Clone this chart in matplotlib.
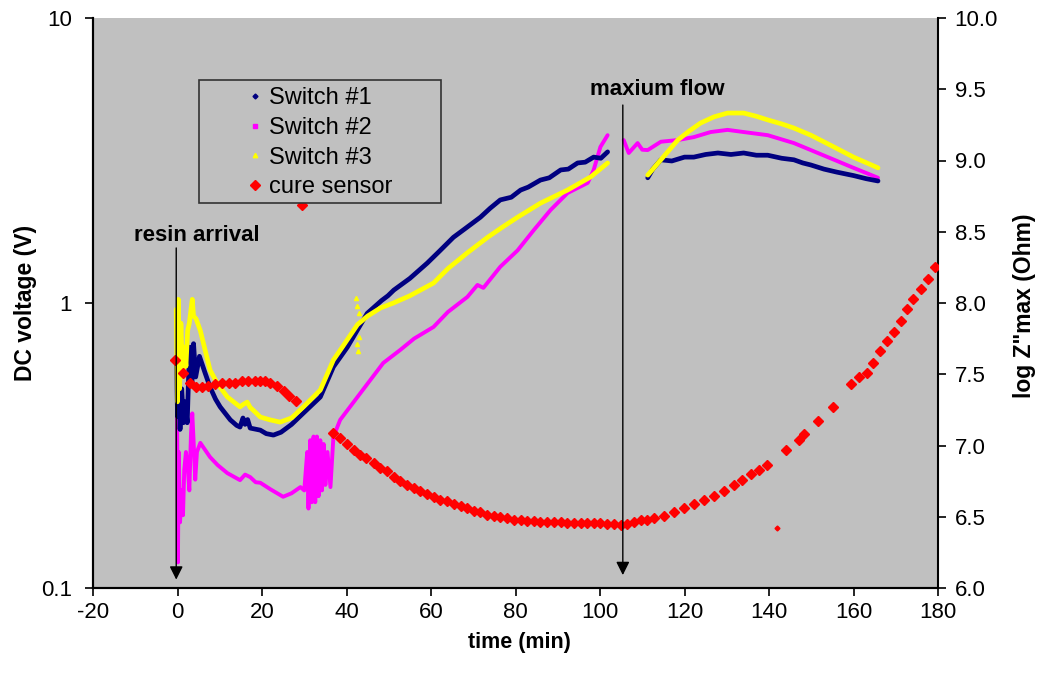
import matplotlib
matplotlib.use("Agg")
import matplotlib.pyplot as plt
from matplotlib.lines import Line2D
from matplotlib.patches import Rectangle
from matplotlib import font_manager as fm

# ---------------- data ----------------
sw1_t = [-0.2, 0.0, 0.3, 0.6, 1.0, 1.4, 1.8, 2.3, 2.7, 3.0, 3.4, 3.8, 4.3, 5.2, 6.5, 7.7, 9.0, 10.1,
         12.5, 14.0, 14.8, 15.5, 16.0, 16.6, 17.2, 19.6, 21.0, 22.7, 24.5, 27.0, 29.8, 33.8, 36.9,
         40.2, 44.9, 48.3, 49.8, 51.2, 55.0, 59.1, 62.0, 65.3, 68.0, 71.7, 74.0, 76.4, 79.0, 81.2,
         83.0, 85.9, 88.0, 90.7, 92.5, 94.7, 96.5, 98.5, 100.2, 101.8]
sw1_v = [0.62, 0.40, 0.55, 0.36, 0.50, 0.38, 0.45, 0.38, 0.60, 0.70, 0.52, 0.72, 0.55, 0.65, 0.57, 0.507,
         0.46, 0.432, 0.389, 0.372, 0.367, 0.395, 0.375, 0.39, 0.364, 0.358, 0.348, 0.344, 0.352, 0.375,
         0.411, 0.468, 0.597, 0.70, 0.92, 1.02, 1.06, 1.11, 1.22, 1.38, 1.52, 1.70, 1.82, 2.00, 2.15,
         2.30, 2.35, 2.49, 2.55, 2.70, 2.75, 2.93, 2.95, 3.10, 3.12, 3.25, 3.22, 3.39]
sw1b_t = [111.3, 112.5, 114.4, 117.0, 120.0, 122.2, 125.0, 127.9, 131.0, 134.0, 137.0, 139.7, 143.0,
          145.9, 148.0, 149.9, 153.0, 156.0, 160.0, 163.0, 165.8]
sw1b_v = [2.75, 2.95, 3.18, 3.15, 3.25, 3.25, 3.32, 3.36, 3.32, 3.36, 3.30, 3.30, 3.22, 3.18, 3.10,
          3.05, 2.95, 2.88, 2.80, 2.73, 2.68]

sw2_t = [-0.1, 0.1, 0.3, 0.6, 1.0, 1.3, 1.6, 2.0, 2.4, 2.8, 3.2, 3.5, 3.8, 4.2, 4.6, 5.4, 7.7, 9.5,
         11.8, 14.8, 16.0, 17.2, 18.5, 19.6, 22.0, 25.0, 27.0, 29.1, 30.0, 30.7, 31.0, 31.4, 31.8,
         32.2, 32.6, 33.0, 33.4, 33.8, 34.2, 34.6, 35.0, 35.5, 36.2, 36.9, 38.5, 40.2, 43.3, 48.7,
         52.7, 56.0, 60.6, 64.0, 68.6, 71.0, 72.4, 76.4, 80.5, 84.3, 88.3, 92.3, 97.1, 98.5, 100.1,
         101.8]
sw2_v = [0.42, 0.123, 0.30, 0.17, 0.22, 0.18, 0.26, 0.30, 0.27, 0.22, 0.35, 0.41, 0.33, 0.24, 0.30,
         0.323, 0.288, 0.27, 0.253, 0.239, 0.25, 0.245, 0.235, 0.234, 0.222, 0.209, 0.215, 0.226,
         0.22, 0.30, 0.19, 0.33, 0.20, 0.34, 0.20, 0.34, 0.21, 0.33, 0.22, 0.32, 0.23, 0.30, 0.226,
         0.339, 0.389, 0.42, 0.483, 0.616, 0.684, 0.75, 0.824, 0.93, 1.05, 1.157, 1.13, 1.34, 1.53,
         1.80, 2.12, 2.43, 2.64, 2.93, 3.53, 3.88]
sw2b_t = [105.6, 106.8, 108.9, 110.0, 111.3, 114.4, 118.4, 122.2, 126.2, 130.2, 134.0, 139.7, 145.9,
          149.9, 155.0, 160.0, 165.8]
sw2b_v = [3.73, 3.36, 3.64, 3.45, 3.44, 3.68, 3.73, 3.82, 3.98, 4.05, 3.98, 3.88, 3.64, 3.44, 3.20,
          2.98, 2.75]

sw3_t = [-0.3, 0.0, 0.2, 0.5, 0.8, 1.2, 1.6, 2.0, 2.4, 2.8, 3.2, 3.5, 3.8, 4.4, 5.4, 7.7, 9.5, 11.8,
         14.8, 15.5, 16.5, 17.2, 17.9, 19.6, 21.9, 24.3, 27.0, 29.8, 33.8, 36.9, 39.0, 42.6, 45.0,
         48.0, 51.1, 55.0, 60.6, 64.0, 68.6, 73.4, 77.0, 80.5, 85.9, 92.3, 97.8, 101.8]
sw3_v = [0.95, 0.45, 1.03, 0.50, 0.85, 0.55, 0.70, 0.60, 0.80, 0.85, 0.95, 1.03, 0.90, 0.88, 0.80,
         0.582, 0.52, 0.468, 0.432, 0.44, 0.449, 0.43, 0.421, 0.398, 0.389, 0.382, 0.395, 0.432,
         0.495, 0.631, 0.70, 0.84, 0.90, 0.96, 1.00, 1.06, 1.175, 1.32, 1.50, 1.70, 1.85,
         2.00, 2.24, 2.49, 2.77, 3.10]
sw3_flare_t = [42.3, 42.5, 42.6, 42.7, 42.9, 43.0]
sw3_flare_v = [1.04, 0.98, 0.72, 0.68, 0.92, 0.76]
sw3b_t = [111.3, 114.4, 118.4, 121.0, 123.8, 127.0, 130.2, 134.0, 137.0, 139.7, 143.0, 145.9, 149.9,
          155.0, 160.0, 165.8]
sw3b_v = [2.81, 3.18, 3.73, 4.00, 4.28, 4.50, 4.64, 4.64, 4.52, 4.39, 4.25, 4.11, 3.88, 3.55, 3.25,
          2.98]

cure_t = [-0.6, 1.3, 3.0, 4.4, 5.7, 7.3, 8.9, 10.5, 12.1, 13.6, 15.2, 16.8, 18.4, 19.6, 20.8, 21.9,
          23.5, 25.1, 26.5, 28.1, 29.5, 36.9, 38.5, 40.1, 41.7, 43.3, 44.5, 46.4, 48.0, 49.6, 51.2,
          52.7, 54.3, 55.9, 57.5, 59.1, 60.6, 62.2, 63.8, 65.4, 67.0, 68.6, 70.1, 71.7, 73.3, 74.9,
          76.4, 78.0, 79.6, 81.2, 82.8, 84.3, 85.9, 87.5, 89.1, 90.7, 92.3, 93.8, 95.4, 97.0, 98.6,
          100.1, 101.7, 103.3, 104.9, 106.5, 108.0, 109.6, 111.2, 112.8, 115.2, 117.5, 119.9, 122.3,
          124.6, 127.0, 129.4, 131.7, 133.7, 135.7, 137.7, 139.5, 144.0, 147.1, 148.3, 151.5, 155.2,
          159.5, 161.4, 163.2, 164.7, 166.3, 167.9, 169.5, 171.2, 172.7, 174.2, 176.0, 177.6, 179.3]
cure_z = [7.60, 7.51, 7.44, 7.41, 7.41, 7.42, 7.43, 7.44, 7.44, 7.44, 7.45, 7.455, 7.455, 7.455, 7.45,
          7.44, 7.42, 7.38, 7.35, 7.31, 8.69, 7.085, 7.05, 7.01, 6.97, 6.93, 6.91, 6.875, 6.84, 6.82,
          6.78, 6.75, 6.72, 6.70, 6.68, 6.66, 6.64, 6.62, 6.61, 6.59, 6.575, 6.56, 6.54, 6.53, 6.51,
          6.505, 6.50, 6.49, 6.48, 6.477, 6.47, 6.47, 6.465, 6.463, 6.46, 6.46, 6.456, 6.454, 6.454,
          6.454, 6.454, 6.454, 6.452, 6.45, 6.44, 6.45, 6.465, 6.477, 6.48, 6.49, 6.505, 6.535, 6.56,
          6.59, 6.62, 6.645, 6.68, 6.72, 6.76, 6.80, 6.83, 6.86, 6.97, 7.04, 7.08, 7.17, 7.27, 7.43,
          7.48, 7.51, 7.58, 7.66, 7.73, 7.80, 7.875, 7.955, 8.03, 8.10, 8.17, 8.25]
cure_out_t = [141.8]
cure_out_z = [6.42]

x_ticks = [-20, 0, 20, 40, 60, 80, 100, 120, 140, 160, 180]
y_ticks = [0.1, 1, 10]
y_ticklabels = ["0.1", "1", "10"]
z_ticks = [6.0, 6.5, 7.0, 7.5, 8.0, 8.5, 9.0, 9.5, 10.0]

# ---------------- style ----------------
names = {f.name for f in fm.fontManager.ttflist}
base = "Liberation Sans" if "Liberation Sans" in names else "DejaVu Sans"
narrow = "Liberation Sans Narrow" if "Liberation Sans Narrow" in names else base
plt.rcParams["font.family"] = [base, "DejaVu Sans"]

NAVY = "#000080"
MAG = "#FF00FF"
YEL = "#FFFF00"
RED = "#FF0000"
BG = "#C0C0C0"

W, H = 1042, 673
L, R, T, B = 93, 938, 18, 588
fig = plt.figure(figsize=(W / 100, H / 100), dpi=100)
ax = fig.add_axes([L / W, 1 - B / H, (R - L) / W, (B - T) / H])
ax.set_facecolor(BG)
ax.set_yscale("log")
ax.set_xlim(-20, 180)
ax.set_ylim(0.1, 10)


def ax_x(px):
    return (px - L) / (R - L)


def ax_y(py):
    return (B - py) / (B - T)


lw = 3.4
for t, v in [(sw1_t, sw1_v), (sw1b_t, sw1b_v)]:
    ax.plot(t, v, color=NAVY, lw=lw, solid_joinstyle="round", solid_capstyle="round", zorder=3)
for t, v in [(sw3_t, sw3_v), (sw3b_t, sw3b_v)]:
    ax.plot(t, v, color=YEL, lw=lw, solid_joinstyle="round", solid_capstyle="round", zorder=4)
ax.plot(sw3_flare_t, sw3_flare_v, ls="none", marker="^", ms=3, color=YEL, zorder=4)
for t, v in [(sw2_t, sw2_v), (sw2b_t, sw2b_v)]:
    ax.plot(t, v, color=MAG, lw=lw - 0.6, solid_joinstyle="round", solid_capstyle="round", zorder=2)

ax2 = ax.twinx()
ax2.set_ylim(6.0, 10.0)
ax2.plot(cure_t, cure_z, ls="none", marker="D", ms=5.5, color=RED, mec=RED, zorder=5)
ax2.plot(cure_out_t, cure_out_z, ls="none", marker="D", ms=2.5, color=RED, zorder=5)

# ticks / spines
TFS = 16
ax.set_xticks(x_ticks)
ax.set_xticklabels([str(x) for x in x_ticks], fontsize=TFS, family=narrow)
ax.set_yticks(y_ticks)
ax.set_yticklabels(y_ticklabels, fontsize=TFS)
ax.yaxis.set_minor_locator(matplotlib.ticker.NullLocator())
ax2.set_yticks(z_ticks)
ax2.set_yticklabels([f"{z:.1f}" for z in z_ticks], fontsize=TFS)
for a in (ax, ax2):
    a.tick_params(direction="out", length=6, width=1.2, color="black")
    a.spines["top"].set_visible(False)
    for s in ("left", "right", "bottom"):
        a.spines[s].set_linewidth(1.5)
ax.spines["right"].set_visible(False)
ax.tick_params(axis="y", pad=9)
ax.tick_params(axis="x", pad=4)
ax2.tick_params(axis="y", pad=6)

ax.set_xlabel("time (min)", fontsize=15.5, fontweight="bold", family=narrow)
ax.xaxis.set_label_coords(0.505, -0.077)
ax.set_ylabel("DC voltage (V)", fontsize=16.5, fontweight="bold")
ax.yaxis.set_label_coords(ax_x(37), 0.5)
ax2.set_ylabel('log Z"max (Ohm)', fontsize=16.5, fontweight="bold", rotation=90)
ax2.yaxis.set_label_coords(ax_x(1013), 0.495)

# annotations
arrow = dict(arrowstyle="-|>,head_length=0.8,head_width=0.4", color="black", lw=1.0,
             shrinkA=0, shrinkB=0)
ax2.annotate("", xy=(-0.3, 0.107), xytext=(-0.3, 1.56), xycoords=ax.transData,
             textcoords=ax.transData, arrowprops=arrow, zorder=6)
ax2.text(4.6, 1.73, "resin arrival", transform=ax.transData, ha="center", va="center",
         fontsize=16, fontweight="bold", zorder=6)
ax2.annotate("", xy=(105.4, 0.111), xytext=(105.4, 4.95), xycoords=ax.transData,
             textcoords=ax.transData, arrowprops=arrow, zorder=6)
ax2.text(113.6, 5.59, "maxium flow", transform=ax.transData, ha="center", va="center",
         fontsize=16, fontweight="bold", zorder=6)

# legend: box drawn as a rectangle, entries as a frameless legend
box = Rectangle((ax_x(199), ax_y(203)), ax_x(441) - ax_x(199), ax_y(80) - ax_y(203),
                transform=ax2.transAxes, facecolor=BG, edgecolor="#333333", lw=1.2, zorder=9)
ax2.add_patch(box)
handles = [
    Line2D([], [], ls="none", marker="D", ms=2.5, color=NAVY),
    Line2D([], [], ls="none", marker="s", ms=2.5, color=MAG),
    Line2D([], [], ls="none", marker="^", ms=3.2, color=YEL),
    Line2D([], [], ls="none", marker="D", ms=5.5, color=RED),
]
labels = ["Switch #1", "Switch #2", "Switch #3", "cure sensor"]
LFS = 17
em = LFS * 100 / 72
leg = ax2.legend(handles, labels, loc="upper left",
                 bbox_to_anchor=(ax_x(255 - 0.5 * em), ax_y(87)),
                 fontsize=LFS, frameon=False, borderpad=0, labelspacing=0.33,
                 handletextpad=(269 - 255 - 0.5 * em) / em, borderaxespad=0,
                 handlelength=1.0)
leg.set_zorder(10)

fig.savefig("out.png", dpi=100)
